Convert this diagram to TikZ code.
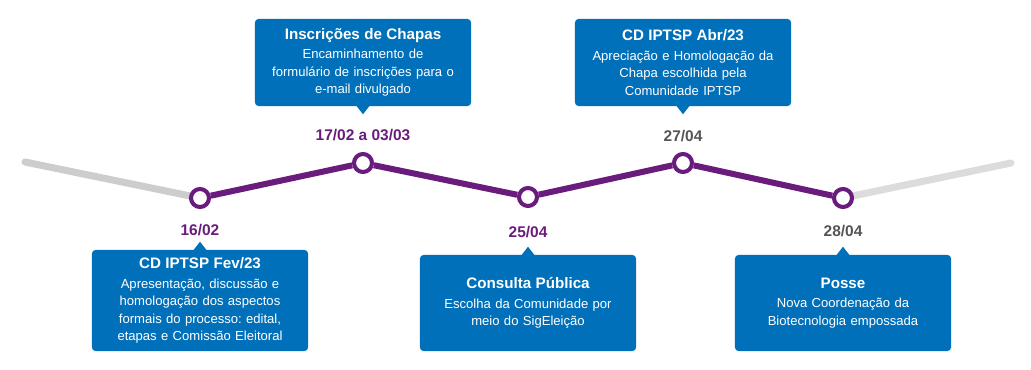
\documentclass[tikz,border=0pt]{standalone}
\usepackage{fontspec}
\setmainfont{Liberation Sans}
\usetikzlibrary{calc,backgrounds}
\definecolor{boxblue}{RGB}{0,112,186}
\definecolor{linepurple}{RGB}{106,28,124}
\definecolor{linegray}{RGB}{205,205,205}
\definecolor{linegraylight}{RGB}{220,220,220}
\definecolor{dategray}{RGB}{85,85,85}
\newcommand{\cardtitle}[1]{{\fontsize{10.8}{13}\selectfont\bfseries #1}\\[1.5pt]}
\frenchspacing

\begin{document}
\begin{tikzpicture}[
    x=0.025cm, y=-0.025cm,
    card/.style={fill=boxblue,text=white,rounded corners=2.5pt,inner sep=0pt,
        minimum width=5.4cm,text width=5.2cm,align=center,
        font=\fontsize{9.3}{12.4}\selectfont},
    tip/.style={fill=boxblue},
    milestone/.style={circle,draw=linepurple,line width=2.9pt,fill=white,minimum size=0.45cm,inner sep=0pt},
    datep/.style={font=\fontsize{11}{13}\selectfont\bfseries,text=linepurple},
    dateg/.style={datep,text=dategray},
    done/.style={draw=linepurple,line width=4.3pt},
    todo/.style={line width=5pt,line cap=round}
]
    \useasboundingbox (0,0) rectangle (1031,369);

    \coordinate (s0) at (25,162);
    \coordinate (s6) at (1011,163);
    \node[milestone] (m1) at (200,198) {};
    \node[milestone] (m2) at (363,163) {};
    \node[milestone] (m3) at (528,197) {};
    \node[milestone] (m4) at (683,163) {};
    \node[milestone] (m5) at (843,198) {};

    \begin{scope}[on background layer]
        \draw[todo,draw=linegray] (s0) -- (m1.center);
        \draw[todo,draw=linegraylight] (m5.center) -- (s6);
    \end{scope}
    \draw[done] (m1) -- (m2);
    \draw[done] (m2) -- (m3);
    \draw[done] (m3) -- (m4);
    \draw[done] (m4) -- (m5);

    \node[datep] (d1) at (200,230) {16/02};
    \node[datep] (d2) at (363,135) {17/02 a 03/03};
    \node[datep] (d3) at (528,232) {25/04};
    \node[dateg] (d4) at (683,136) {27/04};
    \node[dateg] (d5) at (843,231) {28/04};

    \node[card,minimum height=2.525cm] (b1) at (200,300.5) {\cardtitle{CD IPTSP Fev/23}Apresentação, discussão e\\homologação dos aspectos\\formais do processo: edital,\\etapas e Comissão Eleitoral};
    \node[card,minimum height=2.175cm] (b2) at (363,62.5) {\cardtitle{Inscrições de Chapas}Encaminhamento de\\formulário de inscrições para o\\e-mail divulgado};
    \node[card,minimum height=2.4cm] (b3) at (528,303) {\cardtitle{Consulta Pública}Escolha da Comunidade por\\meio do SigEleição};
    \node[card,minimum height=2.175cm] (b4) at (683,62.5) {\cardtitle{CD IPTSP Abr/23}Apreciação e Homologação da\\Chapa escolhida pela\\Comunidade IPTSP};
    \node[card,minimum height=2.4cm] (b5) at (843,303) {\cardtitle{Posse}Nova Coordenação da\\Biotecnologia empossada};

    \fill[tip] ($(b1.north)+(-7,1)$) -- ($(b1.north)+(7,1)$) -- ($(b1.north)+(0,-8)$) -- cycle;
    \fill[tip] ($(b3.north)+(-7,1)$) -- ($(b3.north)+(7,1)$) -- ($(b3.north)+(0,-8)$) -- cycle;
    \fill[tip] ($(b5.north)+(-7,1)$) -- ($(b5.north)+(7,1)$) -- ($(b5.north)+(0,-8)$) -- cycle;
    \fill[tip] ($(b2.south)+(-7,-1)$) -- ($(b2.south)+(7,-1)$) -- ($(b2.south)+(0,8)$) -- cycle;
    \fill[tip] ($(b4.south)+(-7,-1)$) -- ($(b4.south)+(7,-1)$) -- ($(b4.south)+(0,8)$) -- cycle;
\end{tikzpicture}
\end{document}
